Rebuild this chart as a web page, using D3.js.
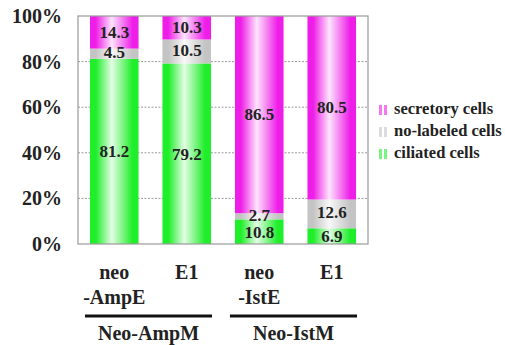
<!DOCTYPE html>
<html><head><meta charset="utf-8">
<script src="https://cdn.jsdelivr.net/npm/d3@7"></script>
<style>body{margin:0;background:#fff}svg{display:block}</style>
</head><body><svg id="c" width="505" height="345"></svg>
<script>
const categories = ["neo-AmpE", "E1-AmpM", "neo-IstE", "E1-IstM"];
const catLabels = [["neo", "-AmpE"], ["E1"], ["neo", "-IstE"], ["E1"]];
const groups = [{name: "Neo-AmpM", from: 0, to: 1}, {name: "Neo-IstM", from: 2, to: 3}];
const seriesNames = ["ciliated cells", "no-labeled cells", "secretory cells"];
const ciliated = [81.2, 79.2, 10.8, 6.9];
const noLabeled = [4.5, 10.5, 2.7, 12.6];
const secretory = [14.3, 10.3, 86.5, 80.5];
const yTicks = [0, 20, 40, 60, 80, 100];

const FONT = "'Liberation Serif', 'Times New Roman', 'DejaVu Serif', serif";
const colors = {"ciliated cells": "#1fee2a", "no-labeled cells": "#c4c4c4", "secretory cells": "#ee1ee8"};
const values = {"ciliated cells": ciliated, "no-labeled cells": noLabeled, "secretory cells": secretory};

const svg = d3.select("#c").attr("font-family", FONT).attr("font-weight", "bold");
const m = {l: 78, r: 368, t: 16, b: 244};
const x = d3.scaleBand().domain(categories).range([m.l, m.r]).paddingInner(0.33).paddingOuter(0.165);
const y = d3.scaleLinear().domain([0, 100]).range([m.b, m.t]);

const defs = svg.append("defs");
seriesNames.forEach((s, i) => {
  const g = defs.append("linearGradient").attr("id", "g" + i).attr("x1", 0).attr("x2", 1).attr("y1", 0).attr("y2", 0);
  g.append("stop").attr("offset", "0%").attr("stop-color", colors[s]);
  g.append("stop").attr("offset", "12%").attr("stop-color", colors[s]);
  g.append("stop").attr("offset", "45%").attr("stop-color", d3.interpolateRgb(colors[s], "#fff")(0.88));
  g.append("stop").attr("offset", "88%").attr("stop-color", colors[s]);
  g.append("stop").attr("offset", "100%").attr("stop-color", colors[s]);
});

function txt(sel) { return sel.attr("font-family", FONT).attr("font-weight", "bold").attr("fill", "#222"); }

// gridlines
svg.append("g").selectAll("line").data(yTicks.filter(t => t > 0 && t < 100)).join("line")
  .attr("x1", m.l).attr("x2", m.r).attr("y1", d => y(d)).attr("y2", d => y(d))
  .attr("stroke", "#999").attr("stroke-width", 1).attr("stroke-dasharray", "2,1.5");

// stacked bars
const table = categories.map((c, i) => { const o = {cat: c}; seriesNames.forEach(s => o[s] = values[s][i]); return o; });
const stack = d3.stack().keys(seriesNames)(table);
stack.forEach((layer, si) => {
  svg.append("g").selectAll("rect").data(layer).join("rect")
    .attr("x", d => x(d.data.cat)).attr("width", x.bandwidth())
    .attr("y", d => y(d[1])).attr("height", d => y(d[0]) - y(d[1]))
    .attr("fill", "url(#g" + si + ")");
});
const labelShift = {"ciliated cells": 2, "no-labeled cells": 0.5, "secretory cells": 1.5};
stack.forEach(layer => {
  txt(svg.append("g").selectAll("text").data(layer).join("text"))
    .attr("x", d => x(d.data.cat) + x.bandwidth() / 2)
    .attr("y", d => (y(d[0]) + y(d[1])) / 2 + labelShift[layer.key])
    .attr("text-anchor", "middle").attr("dominant-baseline", "middle")
    .attr("font-size", 17).text(d => d.data[layer.key].toFixed(1));
});

// frame
svg.append("rect").attr("x", m.l).attr("y", m.t).attr("width", m.r - m.l).attr("height", m.b - m.t)
  .attr("fill", "none").attr("stroke", "#999").attr("stroke-width", 1.2);

// y axis labels
const yAxis = d3.axisLeft(y).tickValues(yTicks).tickFormat(d => d + "%").tickSize(0).tickPadding(16);
const ya = svg.append("g").attr("transform", `translate(${m.l},0)`).call(yAxis);
ya.attr("font-family", FONT);
ya.select(".domain").remove();
txt(ya.selectAll("text")).attr("font-size", 20);

// x labels
categories.forEach((c, i) => {
  const t = txt(svg.append("text")).attr("x", x(c) + x.bandwidth() / 2).attr("y", 279)
    .attr("text-anchor", "middle").attr("font-size", 20);
  catLabels[i].forEach((l, j) => t.append("tspan").attr("x", x(c) + x.bandwidth() / 2).attr("dy", j ? 25 : 0).text(l));
});

// group lines and labels
groups.forEach(g => {
  const x0 = x(categories[g.from]) - 5, x1 = x(categories[g.to]) + x.bandwidth() + 1;
  svg.append("line").attr("x1", x0).attr("x2", x1).attr("y1", 316).attr("y2", 316).attr("stroke", "#111").attr("stroke-width", 3);
  txt(svg.append("text")).attr("x", (x0 + x1) / 2).attr("y", 340).attr("text-anchor", "middle").attr("font-size", 20).text(g.name);
});

// legend
const legendOrder = ["secretory cells", "no-labeled cells", "ciliated cells"];
legendOrder.forEach((s, i) => {
  const ly = 110 + i * 22;
  [0, 5].forEach(dx => svg.append("rect").attr("x", 379 + dx).attr("y", ly - 5).attr("width", 3).attr("height", 10)
    .attr("fill", colors[s]).attr("opacity", 0.6));
  txt(svg.append("text")).attr("x", 394).attr("y", ly).attr("dominant-baseline", "middle").attr("font-size", 16.5).text(s);
});
</script></body></html>
